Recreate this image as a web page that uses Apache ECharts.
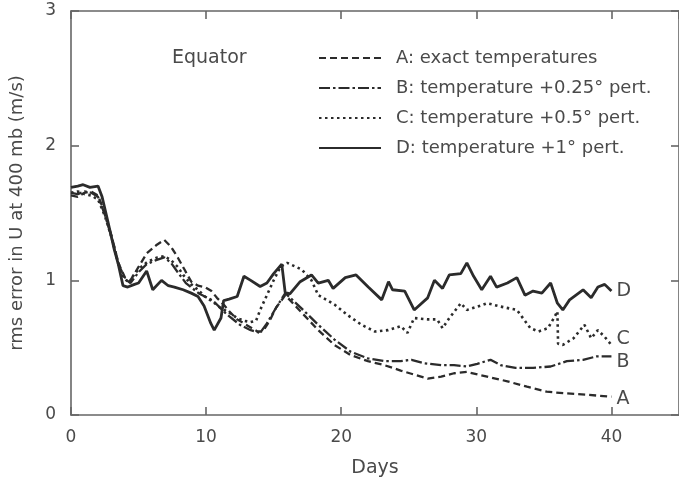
<!DOCTYPE html>
<html><head><meta charset="utf-8">
<script src="https://cdn.jsdelivr.net/npm/echarts@6/dist/echarts.min.js"></script>
<style>html,body{margin:0;padding:0;background:#fff}#c{width:679px;height:484px}</style>
</head><body><div id="c"></div>
<script>
const xTickValues = [0, 10, 20, 30, 40];
const yTickValues = [0, 1, 2, 3];
const seriesNames = ['A: exact temperatures', 'B: temperature +0.25\u00B0 pert.', 'C: temperature +0.5\u00B0 pert.', 'D: temperature +1\u00B0 pert.'];
const endTags = ['A', 'B', 'C', 'D'];

const daysA = [0,0.5,1.0,1.5,2.0,2.5,3.0,3.5,4.0,4.4,5.0,5.6,6.3,6.9,7.4,7.9,8.4,8.9,9.4,9.9,10.4,10.8,11.3,11.8,12.3,12.8,13.3,13.8,14.2,14.7,15.2,15.86,17.08,18.3,19.5,20.7,21.98,23.2,24.4,25.4,26.4,27.4,28.35,29.3,30.8,32.3,33.75,35.2,36.7,38.2,40.0];
const valsA = [1.63,1.62,1.65,1.66,1.63,1.50,1.33,1.13,1.02,1.00,1.10,1.20,1.26,1.30,1.25,1.17,1.08,0.99,0.96,0.95,0.92,0.87,0.82,0.76,0.71,0.68,0.65,0.62,0.62,0.70,0.80,0.89,0.76,0.63,0.52,0.445,0.40,0.37,0.33,0.30,0.27,0.285,0.31,0.32,0.285,0.25,0.21,0.173,0.16,0.15,0.136];

const daysB = [0,0.5,1.0,1.5,2.0,2.5,3.0,3.5,4.0,4.4,5.0,5.6,6.3,6.9,7.4,7.9,8.5,9.5,10.5,11.5,12.5,13.3,14.0,14.5,15.2,15.86,17.08,18.3,19.5,20.7,21.98,23.2,24.4,25.2,26.1,27.4,28.35,29.3,30.07,31.05,31.8,32.9,34.2,35.5,36.7,37.9,38.9,40.0];
const valsB = [1.65,1.64,1.66,1.65,1.62,1.49,1.32,1.12,1.01,0.98,1.06,1.12,1.15,1.17,1.13,1.06,0.98,0.90,0.85,0.75,0.67,0.63,0.61,0.68,0.80,0.905,0.79,0.67,0.56,0.47,0.42,0.40,0.40,0.41,0.385,0.37,0.37,0.36,0.38,0.41,0.37,0.35,0.35,0.36,0.40,0.41,0.435,0.435];

const daysC = [0,0.5,1.0,1.5,2.0,2.5,3.0,3.5,3.9,4.3,4.7,5.2,5.7,6.4,6.9,7.4,7.9,8.3,8.9,9.4,9.9,10.5,11.0,11.7,12.3,12.8,13.3,13.7,14.0,14.5,15.0,15.5,16.0,17.08,17.8,18.3,19.5,20.5,21.5,22.5,23.45,24.4,24.9,25.4,26.4,27.1,27.5,28.0,28.85,29.3,30.1,30.8,31.8,33.0,34.0,34.6,35.3,35.8,36.0,36.05,36.4,37.2,38.0,38.5,39.0,39.5,40.0];
const valsC = [1.65,1.66,1.64,1.63,1.60,1.48,1.32,1.13,1.02,0.98,1.05,1.10,1.14,1.17,1.18,1.15,1.10,1.04,0.97,0.93,0.88,0.84,0.80,0.76,0.72,0.70,0.69,0.70,0.78,0.89,1.00,1.10,1.13,1.08,1.00,0.89,0.82,0.74,0.67,0.62,0.63,0.66,0.61,0.72,0.71,0.71,0.645,0.72,0.83,0.78,0.805,0.83,0.805,0.78,0.645,0.62,0.645,0.73,0.77,0.53,0.52,0.57,0.67,0.57,0.63,0.58,0.52];

const daysD = [0,0.5,0.9,1.4,2.0,2.3,2.7,3.2,3.5,3.85,4.2,4.7,5.0,5.6,6.05,6.7,7.2,7.65,8.3,8.9,9.4,9.85,10.35,10.6,11.1,11.3,11.7,12.3,12.8,13.3,14.0,14.5,15.0,15.6,15.85,16.2,16.96,17.8,18.3,19.04,19.4,20.3,21.1,22.0,23.0,23.5,23.8,24.7,25.4,26.4,26.9,27.5,28.0,28.85,29.3,29.8,30.4,31.05,31.5,32.3,33.0,33.6,34.2,34.85,35.5,36.0,36.4,36.9,37.9,38.5,39.0,39.5,40.0];
const valsD = [1.69,1.70,1.71,1.69,1.70,1.62,1.45,1.23,1.12,0.96,0.95,0.97,0.98,1.07,0.93,1.00,0.96,0.95,0.93,0.905,0.88,0.81,0.68,0.63,0.72,0.85,0.86,0.88,1.03,1.00,0.954,0.98,1.05,1.12,0.91,0.90,0.99,1.04,0.98,1.00,0.94,1.02,1.04,0.95,0.855,0.99,0.93,0.92,0.78,0.87,1.00,0.94,1.04,1.05,1.13,1.03,0.93,1.03,0.95,0.98,1.02,0.89,0.92,0.905,0.98,0.83,0.78,0.855,0.93,0.87,0.95,0.97,0.92];

const zip = (d, v) => d.map((x, i) => [x, v[i]]);
const ink = '#2b2b2b';
const txt = '#4a4a4a';
const WORD_FONT = 'DejaVu Sans';
const NUM_FONT = 'DejaVu Sans';
const dashes = [[7, 4], [11, 3, 2.5, 3], [2.5, 3.5], 'solid'];
const widths = [2.3, 2.3, 2.6, 2.8];
const endOffsets = [[0, 2], [0, 6], [0, -6], [0, 0]];
const dataSets = [zip(daysA, valsA), zip(daysB, valsB), zip(daysC, valsC), zip(daysD, valsD)];

const chart = echarts.init(document.getElementById('c'), null, {renderer: 'canvas'});
const mkLine = () => ({show: true, onZero: false, lineStyle: {color: '#666', width: 1.6}});
const mkTick = () => ({show: true, inside: true, length: 8, lineStyle: {color: '#666', width: 1.6}});
chart.setOption({
  animation: false,
  backgroundColor: '#fff',
  textStyle: {fontFamily: WORD_FONT},
  grid: {left: 71, top: 11, width: 612, height: 404, containLabel: false},
  xAxis: [{
    type: 'value', min: 0, max: 45, interval: 10, position: 'bottom',
    axisLine: mkLine(), axisTick: mkTick(), splitLine: {show: false},
    axisLabel: {color: txt, fontSize: 17, margin: 14, fontFamily: NUM_FONT, showMaxLabel: false,
      formatter: v => xTickValues.includes(v) ? String(v) : ''},
    name: 'Days', nameLocation: 'middle', nameGap: 44,
    nameTextStyle: {color: txt, fontSize: 19, fontFamily: WORD_FONT}
  }, {
    type: 'value', min: 0, max: 45, interval: 10, position: 'top',
    axisLine: mkLine(), axisTick: mkTick(), axisLabel: {show: false}, splitLine: {show: false}
  }],
  yAxis: [{
    type: 'value', min: 0, max: 3, interval: 1, position: 'left',
    axisLine: mkLine(), axisTick: mkTick(), splitLine: {show: false},
    axisLabel: {color: txt, fontSize: 17, margin: 15, fontFamily: NUM_FONT,
      formatter: v => yTickValues.includes(v) ? String(v) : ''},
    name: 'rms error in U at 400 mb (m/s)', nameLocation: 'middle', nameGap: 45,
    nameTextStyle: {color: txt, fontSize: 18, fontFamily: WORD_FONT}
  }, {
    type: 'value', min: 0, max: 3, interval: 1, position: 'right',
    axisLine: mkLine(), axisTick: mkTick(), axisLabel: {show: false}, splitLine: {show: false}
  }],
  legend: {
    orient: 'vertical', left: 318, top: 48, padding: 0, itemWidth: 62, itemHeight: 20, itemGap: 10,
    itemStyle: {opacity: 0},
    textStyle: {color: txt, fontSize: 18, fontFamily: WORD_FONT, padding: [0, 0, 0, 10], lineHeight: 20},
    data: seriesNames
  },
  graphic: [{
    type: 'text', left: 172, top: 49,
    style: {text: 'Equator', fontSize: 19, fill: txt, fontFamily: WORD_FONT}
  }],
  series: dataSets.map((d, i) => ({
    name: seriesNames[i], type: 'line', data: d, showSymbol: false, symbol: 'none',
    xAxisIndex: 0, yAxisIndex: 0, smooth: false,
    lineStyle: {color: ink, width: widths[i], type: dashes[i]},
    itemStyle: {color: ink},
    endLabel: {show: true, formatter: endTags[i], color: txt, fontSize: 19, fontFamily: WORD_FONT,
      distance: 5, offset: endOffsets[i]},
    z: 2 + i
  }))
});
</script></body></html>
